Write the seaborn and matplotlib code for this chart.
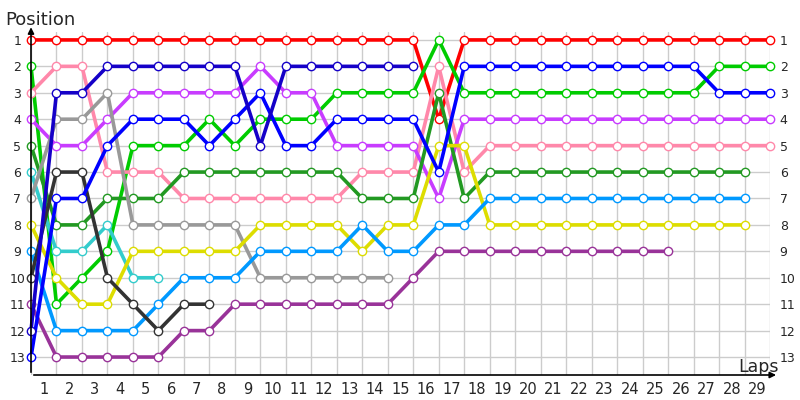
import matplotlib
matplotlib.use("Agg")
import matplotlib.pyplot as plt
import seaborn as sns
import pandas as pd

# Positions per lap (lap 0 = grid), one list per driver
red = [1, 1, 1, 1, 1, 1, 1, 1, 1, 1, 1, 1, 1, 1, 1, 1, 4, 1, 1, 1, 1, 1, 1, 1, 1, 1, 1, 1, 1, 1]
green = [2, 11, 10, 9, 5, 5, 5, 4, 5, 4, 4, 4, 3, 3, 3, 3, 1, 3, 3, 3, 3, 3, 3, 3, 3, 3, 3, 2, 2, 2]
pink = [3, 2, 2, 6, 6, 6, 7, 7, 7, 7, 7, 7, 7, 6, 6, 6, 2, 6, 5, 5, 5, 5, 5, 5, 5, 5, 5, 5, 5, 5]
violet = [4, 5, 5, 4, 3, 3, 3, 3, 3, 2, 3, 3, 5, 5, 5, 5, 7, 4, 4, 4, 4, 4, 4, 4, 4, 4, 4, 4, 4, 4]
dark_green = [5, 8, 8, 7, 7, 7, 6, 6, 6, 6, 6, 6, 6, 7, 7, 7, 3, 7, 6, 6, 6, 6, 6, 6, 6, 6, 6, 6, 6]
cyan = [6, 9, 9, 8, 10, 10]
gray = [7, 4, 4, 3, 8, 8, 8, 8, 8, 10, 10, 10, 10, 10, 10]
yellow = [8, 10, 11, 11, 9, 9, 9, 9, 9, 8, 8, 8, 8, 9, 8, 8, 5, 5, 8, 8, 8, 8, 8, 8, 8, 8, 8, 8, 8]
light_blue = [9, 12, 12, 12, 12, 11, 10, 10, 10, 9, 9, 9, 9, 8, 9, 9, 8, 8, 7, 7, 7, 7, 7, 7, 7, 7, 7, 7, 7]
black = [10, 6, 6, 10, 11, 12, 11, 11]
purple = [11, 13, 13, 13, 13, 13, 12, 12, 11, 11, 11, 11, 11, 11, 11, 10, 9, 9, 9, 9, 9, 9, 9, 9, 9, 9]
dark_blue = [12, 3, 3, 2, 2, 2, 2, 2, 2, 5, 2, 2, 2, 2, 2, 2]
blue = [13, 7, 7, 5, 4, 4, 4, 5, 4, 3, 5, 5, 4, 4, 4, 4, 6, 2, 2, 2, 2, 2, 2, 2, 2, 2, 2, 3, 3, 3]

drivers = {
    "#ff0000": red,
    "#00cc00": green,
    "#ff88aa": pink,
    "#c83cff": violet,
    "#229922": dark_green,
    "#33cccc": cyan,
    "#999999": gray,
    "#dddd00": yellow,
    "#0099ff": light_blue,
    "#333333": black,
    "#993399": purple,
    "#0000ff": blue,
    "#1500c8": dark_blue,
}

lap_labels = [str(i) for i in range(1, 30)]
pos_labels = [str(i) for i in range(1, 14)]

rows = []
for col, pos in drivers.items():
    for lap, p in enumerate(pos):
        rows.append({"driver": col, "lap": lap, "pos": p})
df = pd.DataFrame(rows)

sns.set_theme(style="white")
plt.rcParams['font.family'] = ['DejaVu Sans']

fig = plt.figure(figsize=(8, 4), dpi=100)
ax = fig.add_axes([31 / 800, 25 / 400, (770 - 31) / 800, (375 - 32) / 400])

for col, g in df.groupby("driver", sort=False):
    sns.lineplot(data=g, x="lap", y="pos", color=col, lw=2.6, marker="o",
                 markersize=6, markerfacecolor="white", markeredgecolor=col,
                 markeredgewidth=1.0, clip_on=False, ax=ax, zorder=3)

ax.set_xlim(0, 29)
ax.set_ylim(13.68, 0.70)

# grid
ax.set_xticks(range(30), minor=True)
ax.set_xticks([i - 0.5 for i in range(1, 30)], lap_labels)
ax.set_yticks(range(1, 14), pos_labels)
ax.grid(which="minor", axis="x", color="#cccccc", lw=1, zorder=0)
ax.grid(which="major", axis="y", color="#cccccc", lw=1, zorder=0)
ax.tick_params(axis="x", which="both", length=0, pad=5, labelsize=10.5)
ax.tick_params(axis="y", length=0, pad=10, labelsize=9)
for lbl in ax.get_yticklabels():
    lbl.set_horizontalalignment("center")
for s in ax.spines.values():
    s.set_visible(False)
ax.set_xlabel("")
ax.set_ylabel("")

ax2 = ax.twinx()
ax2.set_ylim(ax.get_ylim())
ax2.set_yticks(range(1, 14), pos_labels)
ax2.tick_params(axis="y", length=0, pad=7, labelsize=9)
for s in ax2.spines.values():
    s.set_visible(False)

# axes with arrows
ax.annotate("", xy=(0, 1.022), xytext=(0, 0), xycoords="axes fraction",
            arrowprops=dict(arrowstyle="-|>", color="black", lw=1.2, mutation_scale=9))
ax.annotate("", xy=(1.012, 0), xytext=(0, 0), xycoords="axes fraction",
            arrowprops=dict(arrowstyle="-|>", color="black", lw=1.2, mutation_scale=9))

fig.text(5 / 800, 1 - 25 / 400, "Position", fontsize=13, va="baseline", ha="left")
fig.text(738 / 800, 1 - 372 / 400, "Laps", fontsize=12.5, va="baseline", ha="left")

fig.savefig("out.png", dpi=100)
